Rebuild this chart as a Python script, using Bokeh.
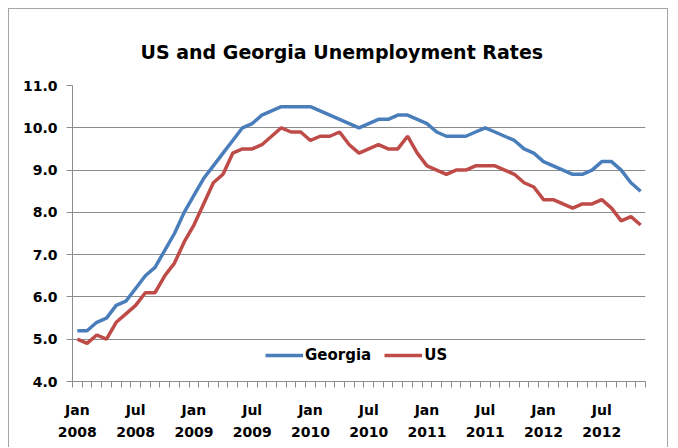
from bokeh.plotting import figure
from bokeh.models import (Range1d, FixedTicker, Legend, LegendItem,
                          NumeralTickFormatter, ColumnDataSource)
from bokeh.embed import file_html
from bokeh.resources import INLINE

# ---- data -------------------------------------------------------------
month_names = ["Jan", "Feb", "Mar", "Apr", "May", "Jun",
               "Jul", "Aug", "Sep", "Oct", "Nov", "Dec"]
years = [2008, 2009, 2010, 2011, 2012]
months = [f"{m} {y}" for y in years for m in month_names][:59]   # Jan 2008 .. Nov 2012

georgia = [5.2, 5.2, 5.4, 5.5, 5.8, 5.9, 6.2, 6.5, 6.7, 7.1, 7.5, 8.0,
           8.4, 8.8, 9.1, 9.4, 9.7, 10.0, 10.1, 10.3, 10.4, 10.5, 10.5, 10.5,
           10.5, 10.4, 10.3, 10.2, 10.1, 10.0, 10.1, 10.2, 10.2, 10.3, 10.3, 10.2,
           10.1, 9.9, 9.8, 9.8, 9.8, 9.9, 10.0, 9.9, 9.8, 9.7, 9.5, 9.4,
           9.2, 9.1, 9.0, 8.9, 8.9, 9.0, 9.2, 9.2, 9.0, 8.7, 8.5]

us = [5.0, 4.9, 5.1, 5.0, 5.4, 5.6, 5.8, 6.1, 6.1, 6.5, 6.8, 7.3,
      7.7, 8.2, 8.7, 8.9, 9.4, 9.5, 9.5, 9.6, 9.8, 10.0, 9.9, 9.9,
      9.7, 9.8, 9.8, 9.9, 9.6, 9.4, 9.5, 9.6, 9.5, 9.5, 9.8, 9.4,
      9.1, 9.0, 8.9, 9.0, 9.0, 9.1, 9.1, 9.1, 9.0, 8.9, 8.7, 8.6,
      8.3, 8.3, 8.2, 8.1, 8.2, 8.2, 8.3, 8.1, 7.8, 7.9, 7.7]

x_tick_months = ["Jan 2008", "Jul 2008", "Jan 2009", "Jul 2009", "Jan 2010",
                 "Jul 2010", "Jan 2011", "Jul 2011", "Jan 2012", "Jul 2012"]
x_tick_labels = ["Jan\n2008", "Jul\n2008", "Jan\n2009", "Jul\n2009", "Jan\n2010",
                 "Jul\n2010", "Jan\n2011", "Jul\n2011", "Jan\n2012", "Jul\n2012"]
y_ticks = [4, 5, 6, 7, 8, 9, 10, 11]

title_text = "US and Georgia Unemployment Rates"
series_names = ["Georgia", "US"]

# ---- styling ----------------------------------------------------------
FONT = "DejaVu Sans"
GRID = "#8c8c8c"
BLUE = "#4A7EBB"
RED = "#BE4B48"

n = len(months)
x = list(range(n))
src = ColumnDataSource(dict(x=x, georgia=georgia, us=us))

p = figure(width=660, height=439, output_backend="svg", toolbar_location=None,
           x_range=Range1d(-0.5, n - 0.5), y_range=Range1d(4, 11),
           min_border_left=63, min_border_right=24, min_border_top=76,
           min_border_bottom=67)
p.styles = {"margin-left": "8px", "margin-top": "8px",
            "border-top": "1px solid #a6a6a6", "border-left": "1px solid #a6a6a6",
            "border-right": "1px solid #a6a6a6"}
p.outline_line_color = None
p.background_fill_color = "white"
p.border_fill_color = "white"

# title
p.title.text = title_text
p.title.align = "left"
p.title.offset = 68
p.title.text_font = FONT
p.title.text_font_style = "bold"
p.title.text_font_size = "19px"
p.title.text_color = "black"
p.title.standoff = 46

# y axis
p.yaxis.ticker = FixedTicker(ticks=y_ticks)
p.yaxis.formatter = NumeralTickFormatter(format="0.0")
p.yaxis.axis_line_color = GRID
p.yaxis.major_tick_line_color = GRID
p.yaxis.major_tick_out = 6
p.yaxis.major_tick_in = 0
p.yaxis.minor_tick_line_color = None
p.yaxis.major_label_standoff = 9
p.yaxis.major_label_text_font = FONT
p.yaxis.major_label_text_font_style = "bold"
p.yaxis.major_label_text_font_size = "14px"
p.yaxis.major_label_text_color = "black"

p.ygrid.ticker = FixedTicker(ticks=y_ticks)
p.ygrid.grid_line_color = GRID
p.xgrid.grid_line_color = None

# x axis: minor ticks between months, labels at category centres
tick_pos = [months.index(m) for m in x_tick_months]
boundaries = [i - 0.5 for i in range(n + 1)]
p.xaxis.ticker = FixedTicker(ticks=tick_pos, minor_ticks=boundaries)
p.xaxis.major_label_overrides = {pos: lab for pos, lab in zip(tick_pos, x_tick_labels)}
p.xaxis.axis_line_color = GRID
p.xaxis.major_tick_out = 0
p.xaxis.major_tick_in = 0
p.xaxis.minor_tick_line_color = GRID
p.xaxis.minor_tick_out = 6
p.xaxis.minor_tick_in = 0
p.xaxis.major_label_standoff = 14
p.xaxis.major_label_text_font = FONT
p.xaxis.major_label_text_font_style = "bold"
p.xaxis.major_label_text_font_size = "14px"
p.xaxis.major_label_text_color = "black"
p.xaxis.major_label_text_line_height = 1.4

# lines
r_ga = p.line("x", "georgia", source=src, line_color=BLUE, line_width=3.5)
r_us = p.line("x", "us", source=src, line_color=RED, line_width=3.5)

legend = Legend(items=[LegendItem(label=series_names[0], renderers=[r_ga]),
                       LegendItem(label=series_names[1], renderers=[r_us])],
                orientation="horizontal", location=(193, 16),
                glyph_width=38, glyph_height=20, label_standoff=2, spacing=13,
                padding=0, margin=0, border_line_color=None,
                background_fill_alpha=0,
                label_text_font=FONT, label_text_font_style="bold",
                label_text_font_size="15px", label_text_color="black")
p.add_layout(legend)

open("out.html", "w").write(file_html(p, INLINE))
